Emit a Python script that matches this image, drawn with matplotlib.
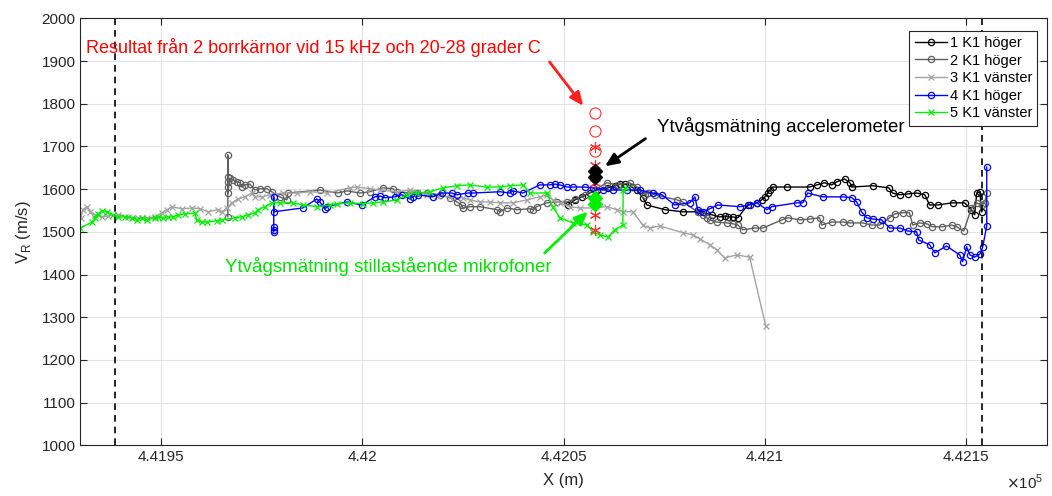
import matplotlib
matplotlib.use("Agg")
import matplotlib.pyplot as plt
from matplotlib.ticker import FuncFormatter, MultipleLocator

plt.rcParams['font.family'] = ['Liberation Sans', 'DejaVu Sans']

# ---- data -----------------------------------------------------------------
s1_x = [442051.0, 442052.8, 442054.5, 442056.5, 442058.2, 442061.0, 442062.7, 442064.0,
        442065.2, 442066.9, 442068.2, 442069.7, 442070.7, 442075.1, 442079.6, 442083.8,
        442086.8, 442088.8, 442090.0, 442090.8, 442092.0, 442093.3, 442095.7, 442098.0,
        442099.2, 442100.0, 442100.7, 442101.2, 442101.9, 442105.4, 442111.1, 442112.9,
        442114.8, 442116.6, 442117.8, 442119.8, 442121.1, 442121.6, 442126.8, 442130.8,
        442131.7, 442133.5, 442135.5, 442137.7, 442139.7, 442140.9, 442142.9, 442146.6,
        442149.6, 442151.3, 442152.1, 442152.6, 442153.4, 442153.8]
s1_y = [1563, 1575, 1582, 1591, 1598, 1603, 1608, 1612,
        1612, 1605, 1598, 1580, 1563, 1552, 1547, 1547,
        1540, 1535, 1537, 1535, 1535, 1533, 1563, 1568,
        1575, 1582, 1591, 1598, 1605, 1605, 1605, 1610,
        1615, 1610, 1617, 1624, 1615, 1605, 1608, 1603,
        1591, 1587, 1589, 1591, 1587, 1563, 1563, 1568,
        1568, 1552, 1540, 1591, 1594, 1547]

s2_x = [441966.6, 441966.6, 441966.6, 441966.6, 441966.6, 441966.6, 441967.1, 441967.9,
        441968.9, 441969.6, 441970.1, 441970.8, 441972.1, 441973.3, 441974.6, 441976.3,
        441977.5, 441979.5, 441981.3, 441981.5, 441989.5, 441993.9, 441996.2, 441999.4,
        442001.9, 442005.1, 442007.6, 442008.6, 442011.8, 442013.5, 442016.0, 442019.3,
        442021.8, 442023.5, 442024.7, 442025.0, 442026.7, 442029.2, 442033.4, 442034.2,
        442035.9, 442038.4, 442041.6, 442042.4, 442043.3, 442045.8, 442048.3, 442050.8,
        442052.8, 442055.3, 442057.8, 442060.7, 442063.5, 442066.4, 442068.2, 442070.2,
        442070.9, 442072.7, 442078.1, 442079.6, 442083.3, 442084.6, 442085.6, 442086.3,
        442088.0, 442090.5, 442092.0, 442093.3, 442094.5, 442097.5, 442099.5, 442104.2,
        442105.7, 442108.7, 442111.1, 442113.6, 442114.1, 442116.6, 442119.3, 442121.1,
        442124.3, 442126.5, 442128.5, 442131.0, 442132.2, 442134.2, 442135.9, 442136.7,
        442138.4, 442140.2, 442141.6, 442144.1, 442146.4, 442147.6, 442149.4, 442151.3,
        442152.6, 442153.8, 442154.6, 442155.1]
s2_y = [1535, 1680, 1629, 1617, 1605, 1591, 1626, 1622,
        1617, 1615, 1605, 1610, 1612, 1598, 1601, 1601,
        1594, 1582, 1575, 1591, 1598, 1591, 1596, 1591,
        1594, 1603, 1601, 1594, 1591, 1591, 1591, 1587,
        1580, 1570, 1563, 1556, 1559, 1559, 1552, 1547,
        1556, 1552, 1554, 1552, 1559, 1568, 1570, 1570,
        1577, 1587, 1598, 1615, 1610, 1615, 1605, 1587,
        1591, 1587, 1575, 1570, 1547, 1540, 1533, 1528,
        1523, 1521, 1519, 1516, 1505, 1509, 1509, 1528,
        1533, 1528, 1530, 1533, 1516, 1523, 1523, 1521,
        1521, 1516, 1516, 1533, 1542, 1545, 1545, 1516,
        1521, 1519, 1512, 1512, 1516, 1512, 1502, 1556,
        1568, 1563, 1568, 1591]

s3_x = [441930.1, 441930.6, 441931.6, 441932.4, 441933.6, 441935.3, 441936.8, 441939.3,
        441941.8, 441944.3, 441946.5, 441948.5, 441950.2, 441951.5, 441952.7, 441955.2,
        441957.7, 441959.7, 441961.7, 441964.1, 441965.1, 441966.4, 441967.6, 441969.1,
        441970.8, 441972.6, 441973.3, 441975.1, 441977.1, 441980.3, 441983.8, 441987.0,
        441991.2, 441996.9, 441998.7, 442001.9, 442004.4, 442008.6, 442011.8, 442013.5,
        442016.0, 442018.5, 442021.8, 442025.0, 442026.7, 442029.2, 442031.7, 442034.2,
        442037.4, 442040.9, 442044.1, 442045.8, 442047.3, 442049.1, 442051.5, 442054.0,
        442057.3, 442060.7, 442063.2, 442064.7, 442067.2, 442069.7, 442071.4, 442073.9,
        442079.6, 442082.1, 442083.8, 442086.3, 442088.0, 442090.0, 442093.0, 442096.2,
        442100.2]
s3_y = [1533, 1552, 1559, 1547, 1540, 1535, 1537, 1540,
        1535, 1533, 1533, 1535, 1545, 1552, 1559, 1554,
        1556, 1554, 1547, 1552, 1547, 1556, 1568, 1577,
        1582, 1591, 1582, 1582, 1587, 1591, 1591, 1594,
        1591, 1603, 1605, 1601, 1598, 1594, 1598, 1594,
        1587, 1584, 1582, 1580, 1575, 1570, 1570, 1568,
        1568, 1575, 1582, 1587, 1575, 1568, 1559, 1556,
        1556, 1559, 1552, 1547, 1547, 1516, 1509, 1514,
        1498, 1493, 1484, 1470, 1458, 1439, 1446, 1441,
        1280]

s4_x = [441978.0, 441978.0, 441978.0, 441978.0, 441978.0, 441985.2, 441988.7, 441989.5,
        441990.7, 441991.2, 441996.2, 441999.9, 442003.1, 442004.4, 442005.6, 442008.1,
        442009.8, 442011.8, 442012.6, 442013.8, 442017.5, 442019.8, 442022.2, 442023.5,
        442026.2, 442027.5, 442034.2, 442036.6, 442037.4, 442039.9, 442044.1, 442046.6,
        442047.8, 442049.1, 442050.8, 442052.3, 442055.3, 442057.3, 442059.7, 442062.2,
        442065.7, 442068.9, 442072.1, 442074.4, 442077.6, 442081.3, 442082.6, 442083.3,
        442084.6, 442086.3, 442088.3, 442093.8, 442096.2, 442098.0, 442100.5, 442101.7,
        442107.9, 442109.4, 442110.6, 442114.4, 442119.3, 442121.6, 442122.8, 442124.0,
        442125.3, 442126.8, 442129.0, 442131.0, 442133.5, 442135.5, 442137.7, 442138.2,
        442140.9, 442142.2, 442145.1, 442148.4, 442149.1, 442150.1, 442150.9, 442152.1,
        442153.4, 442154.1, 442155.1, 442155.1]
s4_y = [1500, 1505, 1512, 1582, 1547, 1556, 1577, 1570,
        1554, 1559, 1570, 1563, 1582, 1584, 1580, 1582,
        1587, 1577, 1582, 1587, 1582, 1591, 1591, 1587,
        1591, 1591, 1594, 1591, 1596, 1591, 1610, 1610,
        1612, 1610, 1605, 1605, 1605, 1603, 1598, 1598,
        1598, 1598, 1591, 1587, 1563, 1568, 1582, 1552,
        1547, 1554, 1563, 1559, 1563, 1568, 1552, 1559,
        1568, 1568, 1591, 1582, 1582, 1580, 1570, 1547,
        1533, 1530, 1528, 1509, 1509, 1502, 1500, 1481,
        1470, 1451, 1467, 1446, 1430, 1465, 1446, 1441,
        1448, 1465, 1514, 1652]

s5_x = [441930.0, 441932.9, 441933.6, 441934.3, 441935.3, 441936.6, 441938.1, 441939.3,
        441941.0, 441942.8, 441944.0, 441945.3, 441946.5, 441948.5, 441949.2, 441950.5,
        441951.7, 441953.0, 441954.2, 441955.9, 441958.4, 441958.9, 441960.2, 441961.4,
        441963.9, 441965.1, 441968.3, 441970.1, 441971.6, 441973.3, 441974.1, 441975.8,
        441977.5, 441979.5, 441982.8, 441985.2, 441988.7, 441992.0, 441993.7, 441996.9,
        442000.1, 442002.6, 442005.1, 442008.6, 442011.1, 442013.5, 442016.8, 442020.0,
        442023.5, 442026.7, 442030.9, 442034.2, 442036.6, 442039.9, 442041.6, 442045.8,
        442047.3, 442049.1, 442052.3, 442055.8, 442057.3, 442059.0, 442061.0, 442062.7,
        442064.7, 442064.8, 442065.4]
s5_y = [1509, 1523, 1533, 1542, 1549, 1547, 1540, 1535,
        1535, 1533, 1528, 1533, 1528, 1533, 1535, 1533,
        1535, 1535, 1540, 1542, 1544, 1528, 1523, 1523,
        1526, 1528, 1533, 1535, 1540, 1544, 1552, 1559,
        1568, 1568, 1568, 1563, 1559, 1563, 1566, 1568,
        1566, 1568, 1570, 1575, 1587, 1591, 1594, 1603,
        1608, 1610, 1605, 1605, 1608, 1610, 1591, 1591,
        1559, 1533, 1521, 1516, 1500, 1493, 1488, 1505,
        1516, 1598, 1603]

series_labels = ['1 K1 höger', '2 K1 höger', '3 K1 vänster', '4 K1 höger', '5 K1 vänster']

core_x = 442057.8
core_circles = [1778, 1736, 1690]
core_stars = [1698, 1656, 1614, 1540, 1504]
accel_x = 442057.8
accel_v = [1642, 1628]
mic_x = 442057.8
mic_v = [1580, 1566]

section_limits = [441938.6, 442153.8]

xlim = (441930, 442170)
ylim = (1000, 2000)

# ---- figure ---------------------------------------------------------------
fig = plt.figure(figsize=(10.52, 4.96), dpi=100)
ax = fig.add_axes([0.0765, 0.102, 0.9185, 0.861])

ax.grid(True, color='#e3e3e3', linewidth=0.8)
ax.set_axisbelow(True)

mk = dict(markerfacecolor='none', markersize=4.5, markeredgewidth=0.9, linewidth=1.0)
ax.plot(s1_x, s1_y, '-o', color='black', label=series_labels[0], **mk)
ax.plot(s2_x, s2_y, '-o', color='#5f5f5f', label=series_labels[1], **mk)
ax.plot(s3_x, s3_y, '-x', color='#a3a3a3', label=series_labels[2], **mk)
ax.plot(s4_x, s4_y, '-o', color='#0000ff', label=series_labels[3], **mk)
ax.plot(s5_x, s5_y, '-x', color='#00ee00', label=series_labels[4], **mk)

for xv in section_limits:
    ax.axvline(xv, color='black', linestyle=(0, (4, 3)), linewidth=1.2)

# drill core results (two cores: circles and asterisks)
ax.plot([core_x] * len(core_circles), core_circles, 'o', color='#ff3030',
        markerfacecolor='none', markersize=8, markeredgewidth=0.8, linestyle='none')
ax.plot([core_x] * len(core_stars), core_stars, marker=(6, 2, 0), color='#ff3030',
        markersize=8, markeredgewidth=0.8, linestyle='none')
ax.plot([accel_x] * len(accel_v), accel_v, 'D', color='black', markersize=7, linestyle='none')
ax.plot([mic_x] * len(mic_v), mic_v, 'D', color='#00ee00', markersize=7, linestyle='none')

# annotations
arrow_style = '-|>,head_length=0.8,head_width=0.35'
ax.annotate('', xy=(442055.3, 1790), xytext=(442046.1, 1903),
            arrowprops=dict(arrowstyle=arrow_style, color='#ff2020', lw=2))
ax.text(441931.4, 1931, 'Resultat från 2 borrkärnor vid 15 kHz och 20-28 grader C',
        color='#ff0000', fontsize=13, va='center', ha='left')

ax.annotate('', xy=(442059.7, 1650), xytext=(442070.9, 1722),
            arrowprops=dict(arrowstyle=arrow_style, color='black', lw=2))
ax.text(442073.1, 1746, 'Ytvågsmätning accelerometer', color='black',
        fontsize=13.5, va='center', ha='left')

ax.annotate('', xy=(442056.5, 1552), xytext=(442044.8, 1446),
            arrowprops=dict(arrowstyle=arrow_style, color='#00ee00', lw=2))
ax.text(441965.9, 1420, 'Ytvågsmätning stillastående mikrofoner', color='#00e000',
        fontsize=13.5, va='center', ha='left')

ax.set_xlim(*xlim)
ax.set_ylim(*ylim)
ax.xaxis.set_major_locator(MultipleLocator(50))
ax.yaxis.set_major_locator(MultipleLocator(100))
ax.xaxis.set_major_formatter(FuncFormatter(lambda v, p: f"{v / 1e5:.5f}".rstrip('0').rstrip('.')))
ax.tick_params(direction='in', top=True, right=True, labelsize=11, colors='#262626',
               length=5, width=0.8)
for sp in ax.spines.values():
    sp.set_color('#262626')
    sp.set_linewidth(0.8)

ax.set_xlabel('X (m)', fontsize=12, color='#262626', labelpad=6)
ax.set_ylabel(r'V$_\mathregular{R}$ (m/s)', fontsize=12, color='#262626', labelpad=6)
fig.text(0.992, 0.008, r'$\times$10$^\mathregular{5}$', fontsize=11, color='#262626',
         ha='right', va='bottom')

leg = ax.legend(loc='upper right', bbox_to_anchor=(0.9975, 0.988), fontsize=10.5,
                handlelength=2.2, handletextpad=0.2, borderpad=0.35, labelspacing=0.25,
                fancybox=False, framealpha=1, edgecolor='#262626')
leg.get_frame().set_linewidth(0.8)

fig.savefig('out.png', dpi=100)
